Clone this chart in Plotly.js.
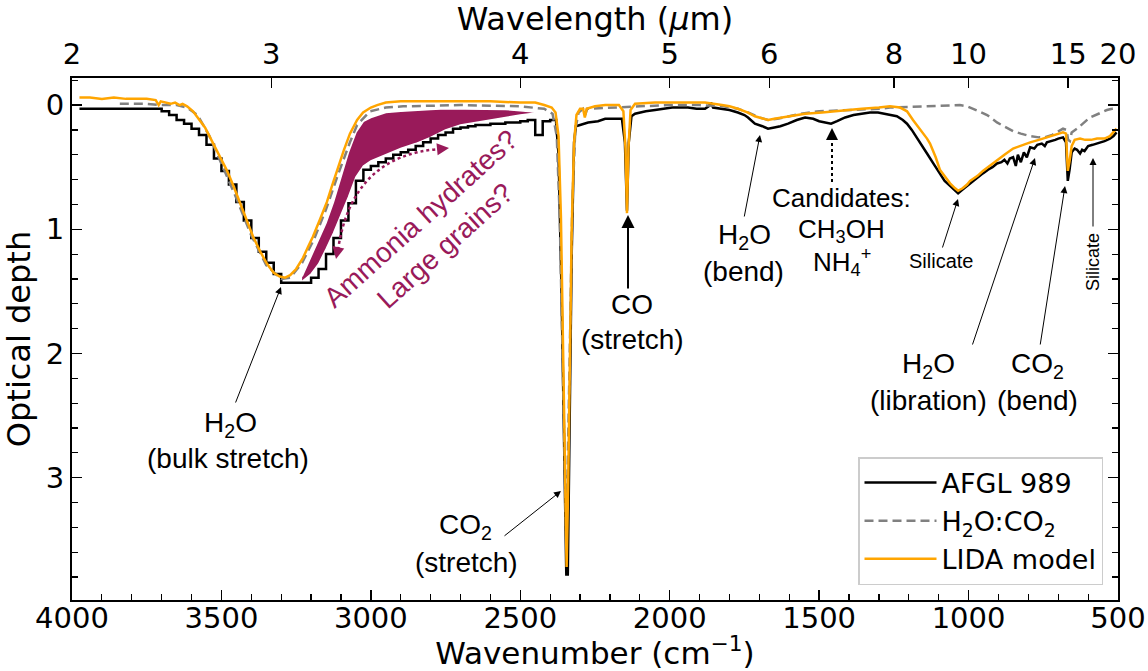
<!DOCTYPE html>
<html><head><meta charset="utf-8">
<script src="https://cdn.plot.ly/plotly-3.0.1.min.js"></script>
<style>html,body{margin:0;padding:0;background:#fff;} #chart{width:1148px;height:671px;}</style>
</head><body><div id="chart"></div>
<script>
// ---------- data ----------
// AFGL 989, low-resolution part (stepped)
const afglStepWn  = [3975,3900,3800,3725,3700,3675,3650,3625,3600,3575,3550,3525,3500,3475,3450,3425,3400,3375,3350,3325,3300,3275,3250,3225,3200,3175,3150,3125,3100,3075,3050,3025,3000,2975,2950,2925,2900,2875,2850,2825,2800,2775,2750,2725,2700,2675,2650,2625,2600,2575,2550,2525,2500,2475,2450,2425,2400,2380];
const afglStepTau = [0.03,0.03,0.03,0.03,0.05,0.08,0.12,0.15,0.19,0.24,0.32,0.43,0.53,0.64,0.78,0.93,1.07,1.18,1.27,1.36,1.43,1.43,1.43,1.43,1.39,1.32,1.20,1.07,0.93,0.79,0.61,0.52,0.49,0.46,0.43,0.40,0.38,0.36,0.33,0.30,0.27,0.24,0.22,0.19,0.18,0.17,0.16,0.16,0.15,0.15,0.14,0.14,0.13,0.12,0.24,0.13,0.12,0.15];
// AFGL 989, higher-resolution part
const afglWn  = [2380,2372,2362,2352,2346,2341,2336,2328,2320,2314,2300,2273,2240,2216,2180,2160,2150,2143,2137,2128,2116,2080,2049,2020,1992,1960,1939,1910,1882,1870,1862,1855,1825,1800,1772,1750,1738,1715,1690,1671,1650,1630,1604,1575,1547,1520,1500,1480,1460,1440,1413,1385,1357,1330,1303,1280,1263,1240,1220,1206,1190,1173,1155,1139,1118,1096,1080,1062,1045,1035,1020,1005,990,970,952,935,920,905,890,880,870,862,851,842,835,825,815,805,794,780,770,755,745,738,720,710,700,684,674,668,662,655,645,637,627,620,612,600,585,570,545,527,515,505];
const afglTau = [0.15,0.40,1.50,2.80,3.78,3.78,2.60,1.20,0.30,0.17,0.16,0.14,0.13,0.11,0.11,0.11,0.30,0.85,0.30,0.09,0.07,0.05,0.04,0.03,0.02,0.02,0.02,0.03,0.03,0.01,-0.02,0.02,0.03,0.04,0.06,0.08,0.10,0.15,0.17,0.19,0.18,0.17,0.15,0.12,0.10,0.11,0.13,0.14,0.15,0.13,0.10,0.08,0.07,0.06,0.06,0.07,0.08,0.09,0.12,0.15,0.20,0.26,0.33,0.39,0.47,0.55,0.61,0.65,0.69,0.71,0.68,0.65,0.62,0.58,0.55,0.52,0.50,0.47,0.46,0.44,0.47,0.43,0.42,0.49,0.40,0.46,0.38,0.42,0.34,0.35,0.32,0.31,0.33,0.30,0.29,0.28,0.27,0.26,0.30,0.61,0.52,0.38,0.35,0.36,0.39,0.36,0.37,0.33,0.32,0.31,0.29,0.27,0.25,0.22];
// H2O:CO2 laboratory ice
const iceWn  = [3840,3760,3700,3650,3615,3580,3540,3500,3450,3400,3350,3300,3270,3230,3190,3150,3110,3070,3046,3003,2950,2892,2700,2500,2420,2392,2378,2368,2358,2346,2336,2326,2316,2305,2290,2283,2276,2200,2100,2000,1900,1820,1772,1738,1700,1671,1640,1600,1564,1500,1400,1300,1263,1150,1060,1029,1005,985,960,938,905,871,851,825,794,765,745,720,700,684,672,667,661,655,637,615,594,565,537,520,505];
const iceTau = [-0.01,-0.01,0.00,0.00,0.02,0.08,0.25,0.47,0.75,1.05,1.29,1.40,1.39,1.27,1.08,0.84,0.56,0.30,0.16,0.05,0.02,0.01,0.00,0.01,0.03,0.07,0.25,0.90,2.20,3.50,2.20,0.80,0.20,0.06,0.03,0.08,0.03,0.02,0.01,0.00,0.00,0.01,0.03,0.06,0.10,0.12,0.11,0.09,0.07,0.05,0.04,0.03,0.02,0.01,0.00,0.00,0.01,0.03,0.06,0.08,0.14,0.18,0.21,0.23,0.25,0.26,0.26,0.24,0.21,0.19,0.20,0.28,0.29,0.22,0.19,0.14,0.10,0.07,0.04,0.03,0.02];
// LIDA model
const lidaWn  = [3975,3940,3900,3860,3820,3780,3750,3720,3710,3703,3690,3670,3655,3640,3630,3615,3595,3572,3555,3538,3510,3481,3460,3438,3415,3394,3370,3347,3325,3305,3287,3270,3250,3227,3210,3194,3170,3147,3130,3113,3090,3070,3046,3026,3000,2979,2950,2900,2800,2700,2600,2500,2450,2420,2395,2382,2372,2364,2357,2350,2345,2340,2335,2328,2320,2312,2300,2290,2284,2278,2250,2216,2170,2155,2148,2143,2138,2131,2116,2049,1992,1939,1882,1825,1800,1772,1738,1715,1690,1671,1650,1625,1604,1575,1547,1490,1450,1413,1357,1300,1263,1229,1206,1186,1160,1139,1129,1110,1096,1078,1062,1045,1035,1020,1005,995,970,952,930,905,880,851,820,794,765,738,710,684,674,668,662,655,645,627,610,590,570,545,527,515,505];
const lidaTau = [-0.06,-0.06,-0.05,-0.06,-0.05,-0.05,-0.05,-0.04,0.00,-0.03,-0.02,-0.01,-0.02,0.00,-0.01,0.01,0.05,0.12,0.18,0.26,0.39,0.53,0.65,0.79,0.93,1.06,1.18,1.28,1.35,1.38,1.39,1.37,1.32,1.23,1.14,1.06,0.92,0.78,0.65,0.52,0.36,0.23,0.12,0.06,0.02,0.00,-0.02,-0.03,-0.03,-0.03,-0.03,-0.02,-0.02,0.00,0.02,0.06,0.25,0.90,2.00,3.00,3.72,3.10,2.20,1.00,0.30,0.08,0.03,0.03,0.10,0.03,0.01,0.00,0.00,0.05,0.35,0.87,0.35,0.04,-0.01,-0.02,-0.02,-0.02,-0.02,0.00,0.01,0.03,0.06,0.09,0.11,0.12,0.11,0.10,0.09,0.08,0.07,0.06,0.05,0.04,0.03,0.02,0.01,0.02,0.05,0.12,0.20,0.27,0.31,0.42,0.52,0.58,0.63,0.67,0.69,0.67,0.64,0.61,0.57,0.53,0.49,0.44,0.40,0.35,0.32,0.30,0.28,0.26,0.24,0.22,0.23,0.53,0.45,0.33,0.28,0.27,0.28,0.28,0.27,0.27,0.25,0.22,0.19];
// Excess absorption (shaded region)
const fillWn    = [3230,3200,3175,3150,3125,3100,3075,3050,3025,3000,2950,2900,2850,2800,2750,2700,2650,2600,2550,2500,2434];
const fillUpper = [1.38,1.22,1.09,0.95,0.78,0.58,0.38,0.22,0.13,0.10,0.06,0.05,0.04,0.035,0.03,0.03,0.03,0.03,0.035,0.045,0.06];
const fillLower = [1.42,1.36,1.28,1.16,1.03,0.89,0.74,0.58,0.49,0.45,0.40,0.35,0.31,0.26,0.20,0.16,0.14,0.12,0.10,0.08,0.06];
// top axis (wavelength) ticks, placed at wavenumber positions
const topTickWn   = [4000,3333.3,2500,2000,1666.7,1250,1000,666.7,500];
const topTickText = ["2","3","4","5","6","8","10","15","20"];

// ---------- layout helpers ----------
const L=72, R=1118, T=78, B=600;
const PX = p => (p-L)/(R-L);
const PY = p => 1-(p-T)/(B-T);
const DJ = "DejaVu Sans, sans-serif";
const HV = "Liberation Sans, Arial, sans-serif";
const MAG = '#991a5a';

const traces = [
  {x: fillWn.concat(fillWn.slice().reverse()), y: fillUpper.concat(fillLower.slice().reverse()),
   type:'scatter', mode:'lines', fill:'toself', fillcolor:MAG, line:{color:'white', width:1.5},
   showlegend:false, hoverinfo:'skip'},
  {x: afglStepWn, y: afglStepTau, type:'scatter', mode:'lines', name:'AFGL 989', legendgroup:'a',
   line:{color:'black', width:2.5, shape:'hv'}},
  {x: afglWn, y: afglTau, type:'scatter', mode:'lines', name:'AFGL 989', legendgroup:'a', showlegend:false,
   line:{color:'black', width:2.5}},
  {x: iceWn, y: iceTau, type:'scatter', mode:'lines', name:'H<sub>2</sub>O:CO<sub>2</sub>',
   line:{color:'#808080', width:2.5, dash:'9px,5px'}},
  {x: lidaWn, y: lidaTau, type:'scatter', mode:'lines', name:'LIDA model',
   line:{color:'#ffa500', width:2.5}}
];

const txt = (px, py, text, size, extra) => Object.assign({xref:'paper', yref:'paper', x:PX(px), y:PY(py),
  text:text, showarrow:false, xanchor:'center', yanchor:'middle', font:{family:HV, size:size, color:'black'}}, extra||{});
const arr = (tx, ty, sx, sy, w, extra) => Object.assign({xref:'paper', yref:'paper', x:PX(tx), y:PY(ty),
  ax:sx-tx, ay:sy-ty, axref:'pixel', ayref:'pixel', text:'', showarrow:true, arrowhead:2, arrowsize:1.4,
  arrowwidth:w, arrowcolor:'black', standoff:0, startstandoff:0}, extra||{});

const FS = 28;
const annotations = [
  txt(230, 424, 'H<sub>2</sub>O', FS),
  txt(228, 458, '(bulk stretch)', FS),
  txt(465, 526, 'CO<sub>2</sub>', FS),
  txt(466, 562, '(stretch)', FS),
  txt(632, 304, 'CO', FS),
  txt(632, 339, '(stretch)', FS),
  txt(744, 236, 'H<sub>2</sub>O', FS),
  txt(743, 271, '(bend)', FS),
  txt(841, 198, 'Candidates:', 26),
  txt(841, 230, 'CH<sub>3</sub>OH', 26),
  txt(842, 262, 'NH<sub>4</sub><sup>+</sup>', 26),
  txt(941, 261, 'Silicate', 20),
  txt(928, 365, 'H<sub>2</sub>O', FS),
  txt(928, 400, '(libration)', FS),
  txt(1037, 365, 'CO<sub>2</sub>', FS),
  txt(1037, 400, '(bend)', FS),
  txt(1093, 262, 'Silicate', 18, {textangle:-90}),
  txt(432, 232, 'Ammonia hydrates?<br>Large grains?', 28, {textangle:-42, font:{family:HV, size:28, color:MAG}}),
  arr(281, 287, 235, 404, 1),
  arr(561, 491, 503, 537, 1),
  arr(628, 215, 628, 290, 2, {arrowsize:1.3}),
  arr(760, 135, 744, 218, 1),
  arr(832, 128, 832, 140, 2, {arrowsize:1.2}),
  arr(958, 199, 942, 249, 1),
  arr(1035, 158, 972, 346, 1),
  arr(1065, 186, 1040, 346, 1),
  arr(1093, 158, 1093, 228, 1),
  arr(336, 259, 338, 249, 2, {arrowcolor:MAG, arrowsize:1.2}),
  arr(449, 148, 439, 149, 2, {arrowcolor:MAG, arrowsize:1.2})
];

const shapes = [
  {type:'line', xref:'paper', yref:'paper', x0:PX(832), x1:PX(832), y0:PY(182), y1:PY(140),
   line:{color:'black', width:2, dash:'dot'}},
  {type:'path', xref:'paper', yref:'paper',
   path:`M ${PX(338)} ${PY(250)} Q ${PX(352)} ${PY(155)} ${PX(440)} ${PY(149)}`,
   line:{color:MAG, width:2.5, dash:'dot'}}
];

const layout = {
  width:1148, height:671,
  margin:{l:L, r:1148-R, t:T, b:671-B, pad:0},
  paper_bgcolor:'white', plot_bgcolor:'white',
  showlegend:true,
  legend:{x:PX(1103), y:PY(585), xanchor:'right', yanchor:'bottom', bgcolor:'rgba(255,255,255,0.85)',
    bordercolor:'#cccccc', borderwidth:1.5, font:{family:DJ, size:27, color:'black'}, itemwidth:72, tracegroupgap:0},
  xaxis:{range:[4000,500], tick0:0, dtick:500, ticks:'inside', ticklen:10, tickwidth:1.5, tickcolor:'black',
    minor:{dtick:100, ticks:'inside', ticklen:6, tickwidth:1.2, tickcolor:'black'},
    showline:true, linewidth:2, linecolor:'black', mirror:false, showgrid:false, zeroline:false,
    tickfont:{family:DJ, size:29, color:'black'}, ticklabelstandoff:-9,
    title:{text:'Wavenumber (cm<sup>\u22121</sup>)', font:{family:DJ, size:31, color:'black'}, standoff:24}},
  xaxis2:{overlaying:'x', side:'top', range:[4000,500], tickmode:'array', tickvals:topTickWn, ticktext:topTickText,
    ticks:'inside', ticklen:10, tickwidth:1.5, tickcolor:'black', showline:true, linewidth:2, linecolor:'black',
    showgrid:false, zeroline:false, tickfont:{family:DJ, size:29, color:'black'},
    title:{text:'Wavelength (<i>\u03bc</i>m)', font:{family:DJ, size:32, color:'black'}, standoff:0}},
  yaxis:{range:[3.985,-0.218], tick0:0, dtick:1, ticks:'inside', ticklen:10, tickwidth:1.5, tickcolor:'black',
    minor:{dtick:0.2, ticks:'inside', ticklen:6, tickwidth:1.2, tickcolor:'black'},
    showline:true, linewidth:2, linecolor:'black', mirror:'ticks', showgrid:false, zeroline:false,
    tickfont:{family:DJ, size:29, color:'black'},
    title:{text:'Optical depth', font:{family:DJ, size:32, color:'black'}, standoff:8}},
  annotations:annotations, shapes:shapes
};

// invisible trace to attach the top axis
traces.push({x:[topTickWn[0]], y:[null], xaxis:'x2', yaxis:'y', type:'scatter', mode:'lines',
  showlegend:false, hoverinfo:'skip'});

Plotly.newPlot('chart', traces, layout, {staticPlot:true, displayModeBar:false});
</script></body></html>
